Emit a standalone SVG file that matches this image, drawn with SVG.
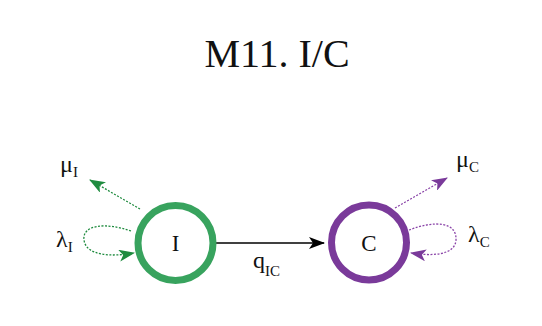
<svg xmlns="http://www.w3.org/2000/svg" width="542" height="326" viewBox="0 0 542 326">
<defs>
<style>
text{font-family:"Liberation Serif","DejaVu Serif",serif;fill:#111}
.t{font-size:40px;text-anchor:middle}
.n{font-size:23px;text-anchor:middle}
.l{font-size:24px}
.s{font-size:15px}
.dg{fill:none;stroke:#1f8b3f;stroke-width:1.3;stroke-dasharray:2 1.5}
.dp{fill:none;stroke:#8a44a8;stroke-width:1.3;stroke-dasharray:2 1.5}
</style>
<marker id="ag" viewBox="0 0 16 12" refX="15" refY="6" markerWidth="16" markerHeight="12" markerUnits="userSpaceOnUse" orient="auto"><path d="M0,0 L16,6 L0,12 L4,6 Z" fill="#1f8b3f"/></marker>
<marker id="ap" viewBox="0 0 16 12" refX="15" refY="6" markerWidth="16" markerHeight="12" markerUnits="userSpaceOnUse" orient="auto"><path d="M0,0 L16,6 L0,12 L4,6 Z" fill="#7a3a9a"/></marker>
<marker id="ab" viewBox="0 0 16 12" refX="15" refY="6" markerWidth="16" markerHeight="12" markerUnits="userSpaceOnUse" orient="auto"><path d="M0,0 L16,6 L0,12 L4,6 Z" fill="#000"/></marker>
</defs>
<rect width="542" height="326" fill="#fff"/>
<text class="t" x="277" y="67">M11. I/C</text>
<g id="connectors">
<line x1="216" y1="243" x2="324" y2="243" stroke="#000" stroke-width="1.3" marker-end="url(#ab)"/>
<path class="dg" d="M140,209 L90,180" marker-end="url(#ag)"/>
<path class="dg" d="M131,231 C105,222 82,225 84,240 C86,256 112,257 134,253" marker-end="url(#ag)"/>
<path class="dp" d="M395,208 L447,178" marker-end="url(#ap)"/>
<path class="dp" d="M409,230 C435,220 457,222 456,240 C455,256 430,256 411,253" marker-end="url(#ap)"/>
</g>
<g id="label-qIC"><text class="l" x="253" y="268">q<tspan class="s" dy="8">IC</tspan></text></g>
<g id="label-muI"><text class="l" x="60" y="172">μ<tspan class="s" dy="5">I</tspan></text></g>
<g id="label-lambdaI"><text class="l" x="56" y="247">λ<tspan class="s" dy="5">I</tspan></text></g>
<g id="label-muC"><text class="l" x="456" y="167">μ<tspan class="s" dy="5">C</tspan></text></g>
<g id="label-lambdaC"><text class="l" x="468" y="242">λ<tspan class="s" dy="5">C</tspan></text></g>
<g id="node-I">
<circle cx="175.5" cy="243" r="37.5" fill="#fff" stroke="#38a35e" stroke-width="7"/>
<text class="n" x="175.5" y="251">I</text>
</g>
<g id="node-C">
<circle cx="369" cy="242.5" r="37.5" fill="#fff" stroke="#7a3a9a" stroke-width="7"/>
<text class="n" x="369" y="251">C</text>
</g>
</svg>
